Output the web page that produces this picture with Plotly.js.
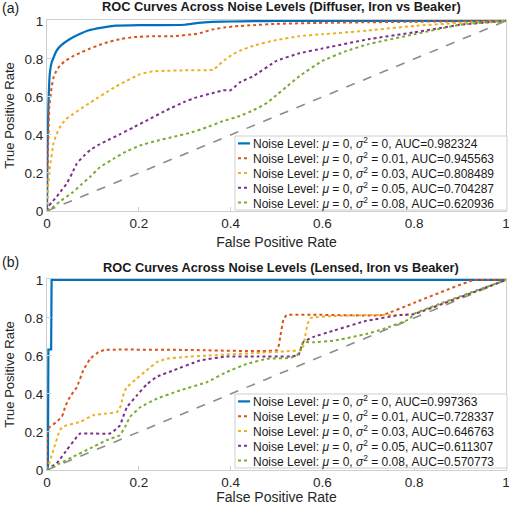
<!DOCTYPE html>
<html>
<head>
<meta charset="utf-8">
<script src="https://cdn.plot.ly/plotly-3.0.1.min.js"></script>
<style>html,body{margin:0;padding:0;background:#fff;}#chart{width:509px;height:505px;}</style>
</head>
<body>
<div id="chart"></div>
<script>
// ---------- Labels ----------
const sigma2Labels = ["0", "0.01", "0.03", "0.05", "0.08"];
const aucA = ["0.982324", "0.945563", "0.808489", "0.704287", "0.620936"];
const aucB = ["0.997363", "0.728337", "0.646763", "0.611307", "0.570773"];
const tickVals = [0, 0.2, 0.4, 0.6, 0.8, 1];
const tickText = ["0", "0.2", "0.4", "0.6", "0.8", "1"];

// ---------- Data: panel (a) Diffuser ----------
const blueA_x = [0, 0.001, 0.003, 0.006, 0.01, 0.02, 0.03, 0.05, 0.07, 0.09, 0.12, 0.15, 0.2, 0.25, 0.3, 0.33, 0.36, 0.4, 0.45, 0.5, 0.6, 0.8, 1];
const blueA_y = [0, 0.3, 0.55, 0.72, 0.78, 0.84, 0.87, 0.905, 0.93, 0.95, 0.965, 0.975, 0.978, 0.978, 0.98, 0.99, 0.995, 0.997, 0.999, 1, 1, 1, 1];

const redA_x = [0, 0.002, 0.005, 0.01, 0.014, 0.02, 0.028, 0.04, 0.057, 0.075, 0.094, 0.11, 0.13, 0.16, 0.19, 0.23, 0.275, 0.32, 0.34, 0.36, 0.385, 0.41, 0.45, 0.5, 0.6, 0.7, 0.8, 0.9, 1];
const redA_y = [0, 0.3, 0.55, 0.65, 0.70, 0.735, 0.765, 0.79, 0.815, 0.835, 0.855, 0.87, 0.887, 0.905, 0.915, 0.92, 0.92, 0.93, 0.94, 0.955, 0.965, 0.972, 0.978, 0.985, 0.99, 0.993, 0.996, 0.998, 1];

const orangeA_x = [0, 0.002, 0.0065, 0.014, 0.02, 0.028, 0.04, 0.057, 0.075, 0.094, 0.11, 0.13, 0.15, 0.174, 0.19, 0.203, 0.23, 0.26, 0.3, 0.362, 0.375, 0.39, 0.405, 0.42, 0.45, 0.5, 0.55, 0.6, 0.7, 0.8, 0.9, 1];
const orangeA_y = [0, 0.12, 0.23, 0.355, 0.40, 0.44, 0.48, 0.51, 0.54, 0.57, 0.595, 0.625, 0.655, 0.686, 0.705, 0.72, 0.735, 0.738, 0.74, 0.743, 0.77, 0.80, 0.825, 0.843, 0.87, 0.90, 0.92, 0.93, 0.95, 0.974, 0.99, 1];

const purpleA_x = [0, 0.003, 0.01, 0.021, 0.032, 0.043, 0.055, 0.065, 0.08, 0.094, 0.11, 0.13, 0.16, 0.188, 0.22, 0.26, 0.3, 0.326, 0.36, 0.384, 0.40, 0.41, 0.42, 0.45, 0.5, 0.55, 0.6, 0.7, 0.8, 0.9, 1];
const purpleA_y = [0, 0.023, 0.045, 0.075, 0.11, 0.145, 0.2, 0.25, 0.29, 0.32, 0.345, 0.37, 0.405, 0.44, 0.48, 0.53, 0.575, 0.598, 0.62, 0.635, 0.635, 0.655, 0.677, 0.71, 0.79, 0.83, 0.855, 0.904, 0.94, 0.98, 1];

const greenA_x = [0, 0.01, 0.028, 0.057, 0.075, 0.094, 0.115, 0.145, 0.17, 0.203, 0.24, 0.275, 0.31, 0.348, 0.38, 0.42, 0.45, 0.48, 0.5, 0.52, 0.55, 0.6, 0.65, 0.7, 0.8, 0.9, 1];
const greenA_y = [0, 0.015, 0.05, 0.10, 0.14, 0.18, 0.23, 0.275, 0.31, 0.345, 0.37, 0.39, 0.41, 0.44, 0.47, 0.50, 0.53, 0.57, 0.61, 0.65, 0.71, 0.79, 0.84, 0.878, 0.93, 0.98, 1];

// ---------- Data: panel (b) Lensed ----------
const blueB_x = [0, 0.002, 0.003, 0.009, 0.01, 1];
const blueB_y = [0, 0, 0.634, 0.634, 1, 1];

const redB_x = [0, 0.001, 0.0065, 0.021, 0.032, 0.036, 0.039, 0.05, 0.065, 0.079, 0.094, 0.112, 0.125, 0.3, 0.502, 0.508, 0.515, 0.522, 0.73, 0.8, 0.93, 1];
const redB_y = [0, 0.21, 0.227, 0.253, 0.28, 0.30, 0.33, 0.385, 0.436, 0.524, 0.585, 0.62, 0.632, 0.632, 0.632, 0.70, 0.79, 0.815, 0.815, 0.88, 1, 1];

const orangeB_x = [0, 0.014, 0.028, 0.036, 0.043, 0.072, 0.10, 0.13, 0.152, 0.158, 0.163, 0.168, 0.174, 0.195, 0.217, 0.239, 0.26, 0.3, 0.348, 0.45, 0.522, 0.556, 0.562, 0.568, 0.575, 0.624, 0.696, 0.798, 1];
const orangeB_y = [0, 0.105, 0.21, 0.23, 0.235, 0.253, 0.288, 0.297, 0.305, 0.32, 0.36, 0.41, 0.436, 0.48, 0.524, 0.567, 0.585, 0.595, 0.602, 0.615, 0.625, 0.632, 0.70, 0.77, 0.80, 0.81, 0.815, 0.82, 1];

const purpleB_x = [0, 0.003, 0.021, 0.043, 0.065, 0.072, 0.094, 0.137, 0.148, 0.159, 0.166, 0.174, 0.195, 0.217, 0.239, 0.275, 0.333, 0.391, 0.46, 0.529, 0.548, 0.553, 0.558, 0.58, 0.624, 0.696, 0.769, 0.798, 1];
const purpleB_y = [0, 0.009, 0.035, 0.105, 0.174, 0.192, 0.192, 0.192, 0.21, 0.235, 0.28, 0.33, 0.39, 0.45, 0.49, 0.524, 0.576, 0.597, 0.597, 0.597, 0.605, 0.64, 0.672, 0.70, 0.733, 0.785, 0.815, 0.82, 1];

const greenB_x = [0, 0.028, 0.057, 0.094, 0.13, 0.159, 0.17, 0.181, 0.203, 0.239, 0.29, 0.348, 0.391, 0.435, 0.479, 0.529, 0.544, 0.552, 0.558, 0.58, 0.624, 0.696, 0.733, 0.79, 0.798, 1];
const greenB_y = [0, 0.035, 0.07, 0.114, 0.157, 0.183, 0.227, 0.28, 0.33, 0.375, 0.419, 0.462, 0.515, 0.558, 0.585, 0.59, 0.602, 0.63, 0.672, 0.672, 0.68, 0.716, 0.742, 0.794, 0.82, 1];

const chanceX = [0, 1];
const chanceY = [0, 1];

const colors = ["#0072BD", "#D95319", "#EDB120", "#7E2F8E", "#77AC30"];

const seriesA = [[blueA_x, blueA_y], [redA_x, redA_y], [orangeA_x, orangeA_y], [purpleA_x, purpleA_y], [greenA_x, greenA_y]];
const seriesB = [[blueB_x, blueB_y], [redB_x, redB_y], [orangeB_x, orangeB_y], [purpleB_x, purpleB_y], [greenB_x, greenB_y]];

function label(i, auc) {
  return "Noise Level: <i>\u03bc</i> = 0, <i>\u03c3</i><sup>2</sup> = " + sigma2Labels[i] + ", AUC=" + auc[i];
}

const FONT = "Liberation Sans, Arial, sans-serif";
const traces = [];
function addPanel(series, auc, xa, ya, linearFirst) {
  traces.push({x: chanceX, y: chanceY, xaxis: xa, yaxis: ya, mode: "lines", showlegend: false,
    line: {color: "#8c8c8c", width: 1.6, dash: "dash"}, hoverinfo: "skip"});
  series.forEach((s, i) => {
    const linear = (i === 0 && linearFirst);
    traces.push({
      x: s[0], y: s[1], xaxis: xa, yaxis: ya, mode: "lines", name: label(i, auc), showlegend: false,
      line: {color: colors[i], width: i === 0 ? 2.2 : 2, dash: i === 0 ? "solid" : "dot",
             shape: linear ? "linear" : "spline", smoothing: 0.3}
    });
  });
}
addPanel(seriesA, aucA, "x", "y", false);
addPanel(seriesB, aucB, "x2", "y2", true);

// ----- pixel -> paper helpers (plot region: x 47..506, y 20..470) -----
const L = 47, W = 459, B = 470, H = 450;
const px = (p) => (p - L) / W;
const py = (p) => (B - p) / H;

// ----- box-style legends (as in the reference) -----
const shapes = [];
const annotations = [];
function addLegend(topPx, auc) {
  const left = 235, right = 507, h = 74, step = h / 5;
  shapes.push({type: "rect", xref: "paper", yref: "paper", x0: px(left), x1: px(right), y0: py(topPx + h), y1: py(topPx),
    fillcolor: "#ffffff", line: {color: "#cfcfcf", width: 1}, layer: "above"});
  for (let i = 0; i < 5; i++) {
    const cy = topPx + step * (i + 0.5);
    shapes.push({type: "line", xref: "paper", yref: "paper", x0: px(238), x1: px(250), y0: py(cy), y1: py(cy),
      line: {color: colors[i], width: i === 0 ? 2.2 : 2, dash: i === 0 ? "solid" : "dot"}, layer: "above"});
    annotations.push({text: label(i, auc), xref: "paper", yref: "paper", x: px(251), y: py(cy), xanchor: "left", yanchor: "middle",
      showarrow: false, font: {family: FONT, size: 12, color: "#1a1a1a"}});
  }
}
addLegend(136, aucA);
addLegend(394, aucB);

const tickFont = {family: FONT, size: 13.5, color: "#262626"};
function xAxis(anchor) {
  return {anchor: anchor, range: [0, 1], tickvals: tickVals, ticktext: tickText, ticklabeloverflow: "allow",
    showgrid: false, zeroline: false, showline: true, mirror: true, linecolor: "#cfcfcf", linewidth: 1,
    ticks: "inside", ticklen: 4, tickcolor: "#cfcfcf", tickfont: tickFont, automargin: false,
    title: {text: "False Positive Rate", font: {family: FONT, size: 14, color: "#262626"}, standoff: 6}};
}
function yAxis(anchor, domain) {
  return {anchor: anchor, domain: domain, range: [0, 1.005], tickvals: tickVals, ticktext: tickText, ticklabeloverflow: "allow",
    showgrid: false, zeroline: false, showline: true, mirror: true, linecolor: "#cfcfcf", linewidth: 1,
    ticks: "inside", ticklen: 4, tickcolor: "#cfcfcf", tickfont: tickFont, automargin: false,
    title: {text: "True Positive Rate", font: {family: FONT, size: 13, color: "#262626"}, standoff: 6}};
}

annotations.push(
  {text: "<b>ROC Curves Across Noise Levels (Diffuser, Iron vs Beaker)</b>", xref: "paper", yref: "paper", x: px(281), y: py(7),
    xanchor: "center", yanchor: "middle", showarrow: false, font: {family: FONT, size: 12.8, color: "#1a1a1a"}},
  {text: "<b>ROC Curves Across Noise Levels (Lensed, Iron vs Beaker)</b>", xref: "paper", yref: "paper", x: px(281), y: py(267),
    xanchor: "center", yanchor: "middle", showarrow: false, font: {family: FONT, size: 12.8, color: "#1a1a1a"}},
  {text: "(a)", xref: "paper", yref: "paper", x: px(0), y: py(8), xanchor: "left", yanchor: "middle", showarrow: false,
    font: {family: FONT, size: 14, color: "#1a1a1a"}},
  {text: "(b)", xref: "paper", yref: "paper", x: px(0), y: py(262), xanchor: "left", yanchor: "middle", showarrow: false,
    font: {family: FONT, size: 14, color: "#1a1a1a"}}
);

const layout = {
  width: 509, height: 505,
  margin: {l: L, r: 509 - L - W, t: 20, b: 505 - B},
  paper_bgcolor: "#ffffff", plot_bgcolor: "#ffffff",
  showlegend: false,
  xaxis: xAxis("y"),
  yaxis: yAxis("x", [py(211), 1]),
  xaxis2: xAxis("y2"),
  yaxis2: yAxis("x2", [0, py(279)]),
  shapes: shapes,
  annotations: annotations
};

Plotly.newPlot("chart", traces, layout, {displayModeBar: false, staticPlot: true});
</script>
</body>
</html>
